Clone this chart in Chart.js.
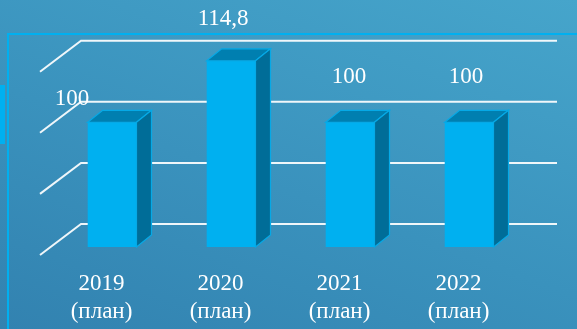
<!DOCTYPE html>
<html>
<head>
<meta charset="utf-8">
<script src="https://cdn.jsdelivr.net/npm/chart.js@4/dist/chart.umd.min.js"></script>
<style>
    html, body {
        margin: 0;
        padding: 0;
        width: 577px;
        height: 329px;
        overflow: hidden;
    }
    body {
        position: relative;
        background: linear-gradient(200deg, #46a5cb 0%, #3a92bd 55%, #3282b0 100%);
    }
    /* slide frame lines */
    .frame {
        position: absolute;
        left: 7px;
        top: 33px;
        width: 580px;
        height: 300px;
        border-top: 2px solid #00b0f0;
        border-left: 2px solid #00b0f0;
    }
    .tab {
        position: absolute;
        left: 0;
        top: 85px;
        width: 5px;
        height: 59px;
        background: #00b0f0;
    }
    #chartBox {
        position: absolute;
        left: 0;
        top: 0;
        width: 577px;
        height: 329px;
    }
</style>
</head>
<body>
<div class="frame"></div>
<div class="tab"></div>
<div id="chartBox"><canvas id="planChart"></canvas></div>

<script>
// Chart data
const years = ['2019', '2020', '2021', '2022'];
const yearNote = '(план)';
const planValues = [100, 114.8, 100, 100];
const axisTicks = [70, 85, 100, 115];

// 3D look: depth of floor (front -> back wall) and placement of the bars in it
const WALL_DX = 41, WALL_DY = 31;
const BAR_SHIFT_X = 10.6, BAR_SHIFT_Y = 8;
const BAR_DX = 15, BAR_DY = 12;
const BACK_SCALE = 0.98;

const fontFamily = '"Liberation Serif", "Times New Roman", serif';

/**
 * Fake 3D plugin: back wall grid, bar sides/tops, value labels
 */
const threeD = {
    id: 'threeD',
    beforeDatasetsDraw(chart) {
        const { ctx, chartArea, scales } = chart;
        const y = scales.y;
        const bottom = chartArea.bottom;

        // back wall grid lines + floor diagonals
        ctx.save();
        ctx.strokeStyle = 'rgba(255, 255, 255, 0.92)';
        ctx.lineWidth = 2;
        axisTicks.forEach(v => {
            const yf = y.getPixelForValue(v);
            const yb = bottom - WALL_DY - (bottom - yf) * BACK_SCALE;
            ctx.beginPath();
            ctx.moveTo(chartArea.left - 2, yb + WALL_DY);
            ctx.lineTo(chartArea.left - 2 + WALL_DX, yb);
            ctx.lineTo(chartArea.right + WALL_DX - 2, yb);
            ctx.stroke();
        });
        ctx.restore();

        // bars sit a bit behind the front plane
        ctx.save();
        ctx.translate(BAR_SHIFT_X, -BAR_SHIFT_Y);
    },
    afterDatasetsDraw(chart) {
        const { ctx, chartArea } = chart;
        const meta = chart.getDatasetMeta(0);

        meta.data.forEach(bar => {
            const half = bar.width / 2;
            const xl = bar.x - half, xr = bar.x + half;
            const yt = bar.y, yb = Math.min(bar.base, chartArea.bottom);

            // top face
            ctx.beginPath();
            ctx.moveTo(xl, yt);
            ctx.lineTo(xl + BAR_DX, yt - BAR_DY);
            ctx.lineTo(xr + BAR_DX, yt - BAR_DY);
            ctx.lineTo(xr, yt);
            ctx.closePath();
            ctx.fillStyle = '#007fb0';
            ctx.fill();
            ctx.strokeStyle = '#06a9e6';
            ctx.lineWidth = 1.2;
            ctx.stroke();

            // side face
            ctx.beginPath();
            ctx.moveTo(xr, yt);
            ctx.lineTo(xr + BAR_DX, yt - BAR_DY);
            ctx.lineTo(xr + BAR_DX, yb - BAR_DY);
            ctx.lineTo(xr, yb);
            ctx.closePath();
            ctx.fillStyle = '#006d98';
            ctx.fill();
            ctx.stroke();
        });
        ctx.restore();

        // value labels
        ctx.save();
        ctx.fillStyle = '#ffffff';
        ctx.font = '23px ' + fontFamily;
        ctx.textAlign = 'center';
        ctx.textBaseline = 'middle';
        const nudges = [[-40, 23], [-8, 4], [-1, 1], [-3, 1]];
        meta.data.forEach((bar, i) => {
            const text = String(planValues[i]).replace('.', ',');
            const [nx, ny] = nudges[i];
            ctx.fillText(text, bar.x + BAR_SHIFT_X + nx, bar.y - BAR_SHIFT_Y - 46 + ny);
        });
        ctx.restore();
    }
};

new Chart(document.getElementById('planChart'), {
    type: 'bar',
    data: {
        labels: years.map(y => [y, yearNote]),
        datasets: [{
            data: planValues,
            backgroundColor: '#00b0f0',
            borderWidth: 0,
            categoryPercentage: 1,
            barPercentage: 0.41
        }]
    },
    options: {
        responsive: true,
        maintainAspectRatio: false,
        animation: false,
        layout: {
            padding: { left: 42, right: 59, top: 68, bottom: 0 }
        },
        plugins: {
            legend: { display: false },
            tooltip: { enabled: false }
        },
        scales: {
            y: {
                display: false,
                min: 70,
                max: 115,
                ticks: { stepSize: 15 }
            },
            x: {
                grid: { display: false },
                border: { display: false },
                afterFit(scale) {
                    scale.height = 74;
                },
                ticks: {
                    color: '#ffffff',
                    padding: 7,
                    maxRotation: 0,
                    font: { family: fontFamily, size: 23, lineHeight: 1.22 }
                }
            }
        }
    },
    plugins: [threeD]
});
</script>
</body>
</html>
